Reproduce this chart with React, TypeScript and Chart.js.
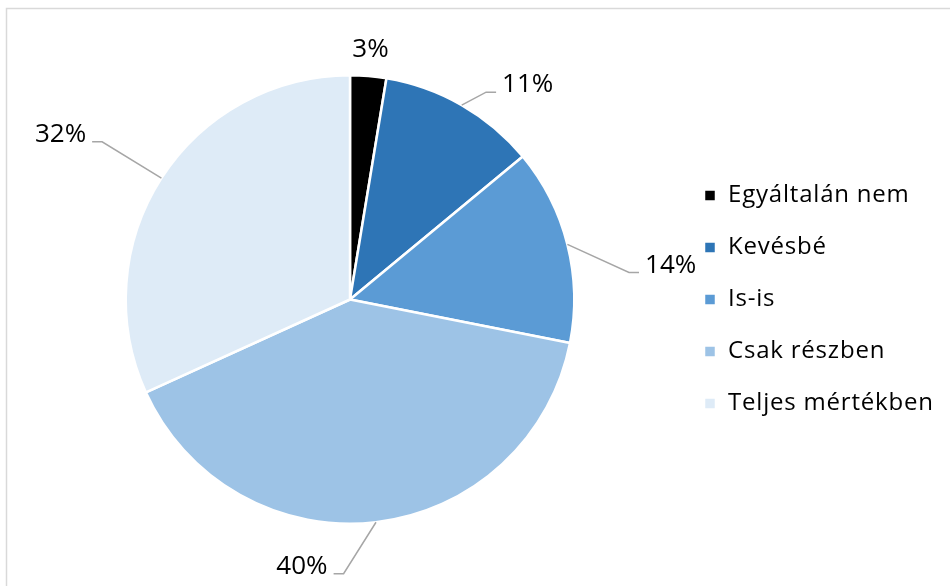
import React, { useEffect, useRef } from "react";
import { Chart, registerables } from "chart.js";

Chart.register(...registerables);

const categories = ["Egyáltalán nem", "Kevésbé", "Is-is", "Csak részben", "Teljes mértékben"];
const shares = [2.6, 11.4, 14.1, 40.1, 31.8];
const sliceColors = ["#000000", "#2E75B6", "#5B9BD5", "#9DC3E6", "#DEEBF7"];

// label placement style: radial factor, angular tweak (deg), leader line
const labelLayout = [
  { r: 1.12, da: 0, line: false },
  { r: 1.106, da: 3.4, line: true },
  { r: 1.25, da: 8.7, line: true },
  { r: 1.223, da: 8, line: true },
  { r: 1.31, da: -0.3, line: true },
];

const FONT = "'Open Sans', Lato, sans-serif";
const LEGEND_SIZE = 24;
const LEGEND_PAD = 28;
const LEGEND_SPACING = "0.8px";
const LEGEND_LEFT = 676;

const frame = {
  id: "frame",
  beforeUpdate(chart: any) {
    chart.ctx.letterSpacing = LEGEND_SPACING;
  },
  beforeDraw(chart: any) {
    const ctx = chart.ctx;
    ctx.letterSpacing = LEGEND_SPACING;
    ctx.save();
    ctx.fillStyle = "#ffffff";
    ctx.fillRect(0, 0, chart.width, chart.height);
    ctx.strokeStyle = "#d9d9d9";
    ctx.lineWidth = 1.5;
    ctx.strokeRect(6.5, 8.5, chart.width + 20, chart.height + 20);
    ctx.restore();
  },
};

const pieLabels = {
  id: "pieLabels",
  afterDatasetsDraw(chart: any) {
    const ctx = chart.ctx;
    const meta = chart.getDatasetMeta(0);
    const vals = chart.data.datasets[0].data;
    ctx.save();
    ctx.letterSpacing = "0px";
    ctx.font = `26px ${FONT}`;
    ctx.fillStyle = "#000000";
    meta.data.forEach((arc: any, i: number) => {
      const { x, y, startAngle, endAngle, outerRadius } = arc.getProps(
        ["x", "y", "startAngle", "endAngle", "outerRadius"],
        true
      );
      const mid = (startAngle + endAngle) / 2;
      const lay = labelLayout[i];
      const ex = x + Math.cos(mid) * outerRadius;
      const ey = y + Math.sin(mid) * outerRadius;
      const a2 = mid + (lay.da * Math.PI) / 180;
      const px = x + Math.cos(a2) * outerRadius * lay.r;
      const py = y + Math.sin(a2) * outerRadius * lay.r;
      const txt = `${Math.round(vals[i])}%`;
      if (lay.line) {
        const dir = Math.cos(a2) >= 0 ? 1 : -1;
        ctx.strokeStyle = "#a6a6a6";
        ctx.lineWidth = 1.5;
        ctx.beginPath();
        ctx.moveTo(ex, ey);
        ctx.lineTo(px, py);
        ctx.lineTo(px + dir * 10, py);
        ctx.stroke();
        ctx.textAlign = dir > 0 ? "left" : "right";
        ctx.textBaseline = "alphabetic";
        ctx.fillText(txt, px + dir * 16, py);
      } else {
        ctx.textAlign = "center";
        ctx.textBaseline = "middle";
        ctx.fillText(txt, px, py);
      }
    });
    ctx.restore();
  },
};

export default function App() {
  const ref = useRef<HTMLCanvasElement>(null);
  useEffect(() => {
    if (!ref.current) return;
    const mctx = document.createElement("canvas").getContext("2d") as any;
    mctx.font = `${LEGEND_SIZE}px ${FONT}`;
    mctx.letterSpacing = LEGEND_SPACING;
    const textW = Math.max(...categories.map((c) => mctx.measureText(c).width));
    const legendW = LEGEND_PAD + 12 + LEGEND_SIZE / 2 + textW + 10;
    const rightPad = Math.max(0, 950 - LEGEND_LEFT - legendW);
    const chart = new Chart(ref.current, {
      type: "pie",
      data: {
        labels: categories,
        datasets: [
          {
            data: shares,
            backgroundColor: sliceColors,
            borderColor: "#ffffff",
            borderWidth: 2.5,
          },
        ],
      },
      options: {
        responsive: false,
        animation: false,
        layout: { padding: { left: 24, top: 74, bottom: 61, right: rightPad } },
        plugins: {
          legend: {
            position: "right",
            labels: {
              boxWidth: 12,
              boxHeight: 12,
              padding: LEGEND_PAD,
              color: "#000000",
              font: { family: FONT, size: LEGEND_SIZE },
            },
          },
          tooltip: { enabled: false },
        },
      },
      plugins: [frame, pieLabels],
    });
    return () => chart.destroy();
  }, []);
  return (
    <div style={{ position: "fixed", left: 0, top: 0, width: 950, height: 586, overflow: "hidden" }}>
      <canvas ref={ref} width={950} height={586} style={{ display: "block" }} />
    </div>
  );
}
